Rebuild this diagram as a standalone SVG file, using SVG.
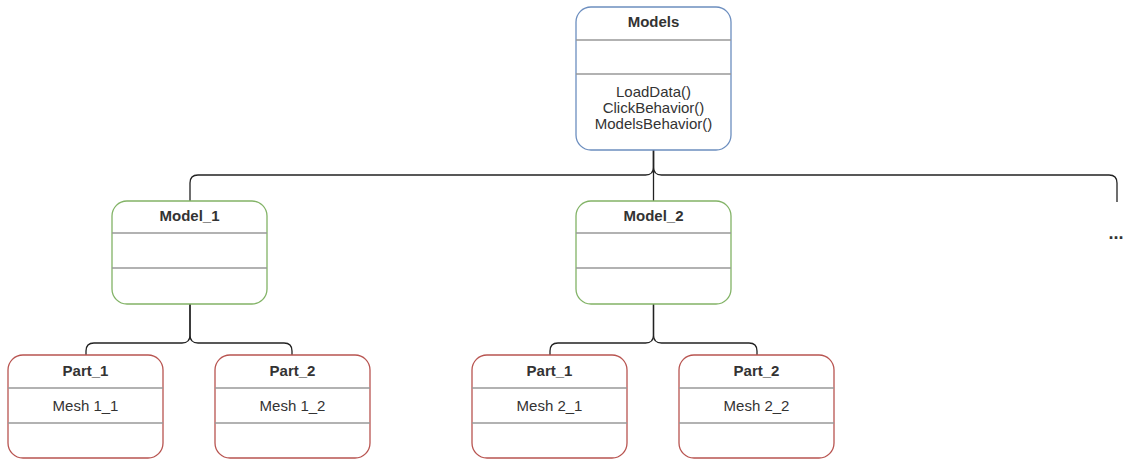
<svg xmlns="http://www.w3.org/2000/svg" width="1124" height="459" viewBox="0 0 1124 459">
<style>
text{font-family:"Liberation Sans",Arial,sans-serif;font-size:15px;fill:#333;text-anchor:middle}
.t{font-weight:bold}
.box{fill:#fff;stroke-width:1.3}
.blue{stroke:#6c8ebf}.green{stroke:#82b366}.red{stroke:#b85450}
.div{stroke:#999;stroke-width:1.3}
.edge{fill:none;stroke:#222;stroke-width:1.3}
</style>
<g id="connectors">
<path class="edge" d="M653.5 150V167Q653.5 175 645.5 175H198Q190 175 190 183V201"/>
<path class="edge" d="M653.5 150V201"/>
<path class="edge" d="M653.5 150V167Q653.5 175 661.5 175H1109Q1117 175 1117 183V202"/>
<path class="edge" d="M190 304V335Q190 343 182 343H94Q86 343 86 351V355"/>
<path class="edge" d="M190 304V335Q190 343 198 343H284Q292 343 292 351V355"/>
<path class="edge" d="M653.5 304V335Q653.5 343 645.5 343H558Q550 343 550 351V355"/>
<path class="edge" d="M653.5 304V335Q653.5 343 661.5 343H749Q757 343 757 351V355"/>
</g>
<g id="models">
<rect class="box blue" x="576" y="7" width="155" height="143" rx="15"/>
<line class="div" x1="576" y1="40" x2="731" y2="40"/>
<line class="div" x1="576" y1="74" x2="731" y2="74"/>
<text class="t" x="653.5" y="27">Models</text>
<text x="653.5" y="97">LoadData()</text>
<text x="653.5" y="113">ClickBehavior()</text>
<text x="653.5" y="129">ModelsBehavior()</text>
</g>
<g id="model1">
<rect class="box green" x="112" y="201" width="155" height="103" rx="15"/>
<line class="div" x1="112" y1="233" x2="267" y2="233"/>
<line class="div" x1="112" y1="268" x2="267" y2="268"/>
<text class="t" x="189.5" y="221">Model_1</text>
</g>
<g id="model2">
<rect class="box green" x="576" y="201" width="155" height="103" rx="15"/>
<line class="div" x1="576" y1="233" x2="731" y2="233"/>
<line class="div" x1="576" y1="268" x2="731" y2="268"/>
<text class="t" x="653.5" y="221">Model_2</text>
</g>
<g id="more">
<text class="t" x="1116" y="239" style="font-size:18px">...</text>
</g>
<g id="part1a">
<rect class="box red" x="8" y="355" width="155" height="103" rx="15"/>
<line class="div" x1="8" y1="388" x2="163" y2="388"/>
<line class="div" x1="8" y1="423" x2="163" y2="423"/>
<text class="t" x="85.5" y="376">Part_1</text>
<text x="85.5" y="411">Mesh 1_1</text>
</g>
<g id="part2a">
<rect class="box red" x="215" y="355" width="155" height="103" rx="15"/>
<line class="div" x1="215" y1="388" x2="370" y2="388"/>
<line class="div" x1="215" y1="423" x2="370" y2="423"/>
<text class="t" x="292.5" y="376">Part_2</text>
<text x="292.5" y="411">Mesh 1_2</text>
</g>
<g id="part1b">
<rect class="box red" x="472" y="355" width="155" height="103" rx="15"/>
<line class="div" x1="472" y1="388" x2="627" y2="388"/>
<line class="div" x1="472" y1="423" x2="627" y2="423"/>
<text class="t" x="549.5" y="376">Part_1</text>
<text x="549.5" y="411">Mesh 2_1</text>
</g>
<g id="part2b">
<rect class="box red" x="679" y="355" width="155" height="103" rx="15"/>
<line class="div" x1="679" y1="388" x2="834" y2="388"/>
<line class="div" x1="679" y1="423" x2="834" y2="423"/>
<text class="t" x="756.5" y="376">Part_2</text>
<text x="756.5" y="411">Mesh 2_2</text>
</g>
</svg>
